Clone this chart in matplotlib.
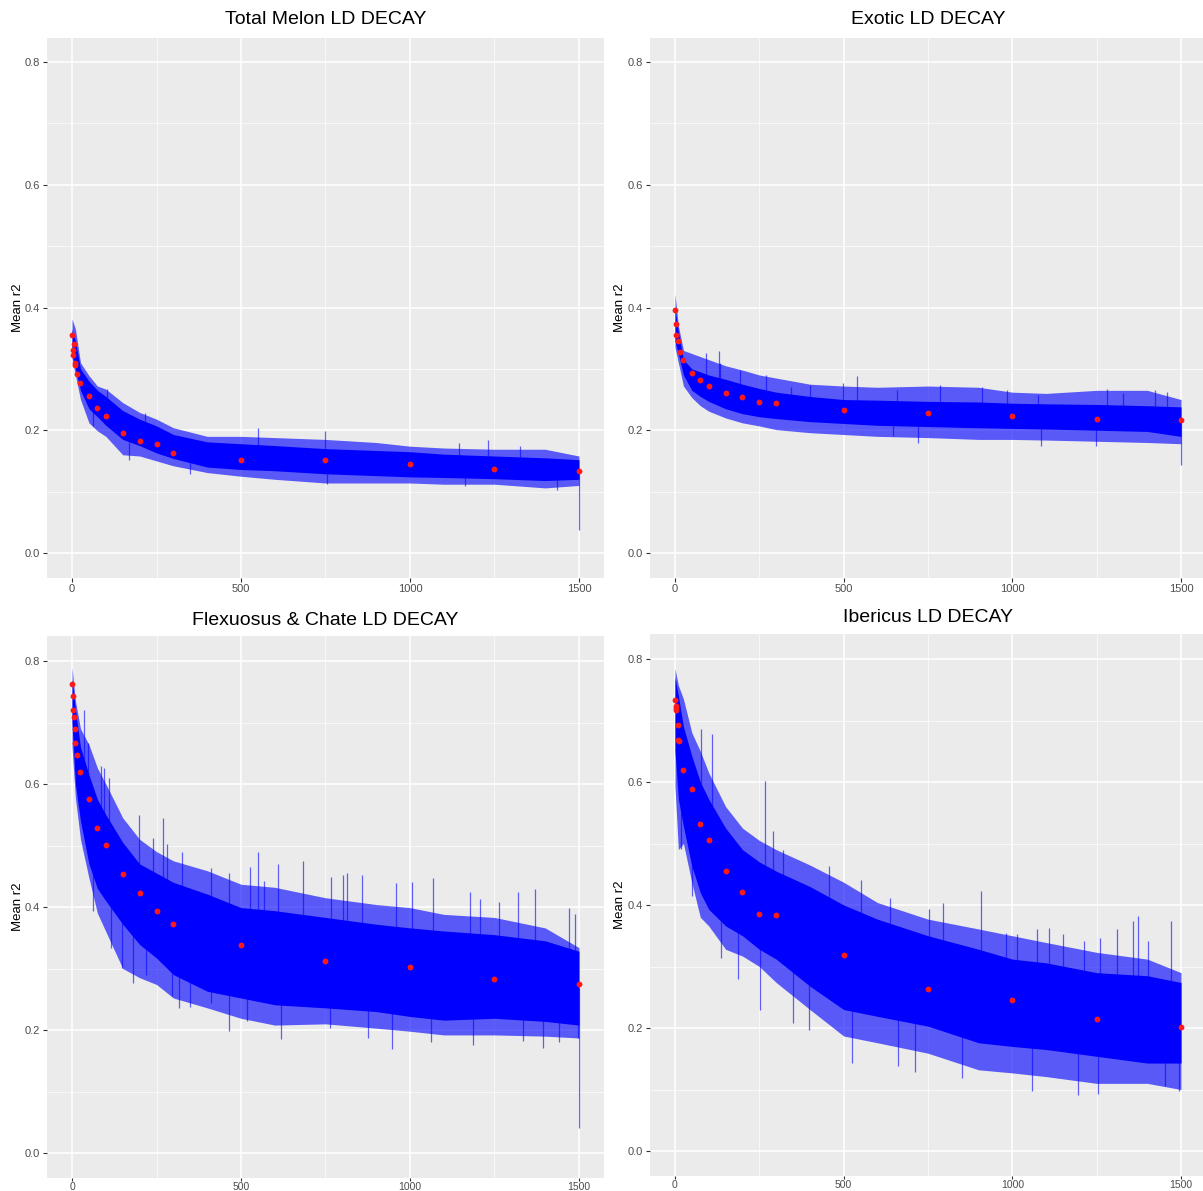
import numpy as np
import matplotlib
matplotlib.use("Agg")
import matplotlib.pyplot as plt

plt.rcParams['font.family'] = ['Liberation Sans', 'DejaVu Sans']

W, H = 1203, 1191

titles = ["Total Melon LD DECAY", "Exotic LD DECAY",
          "Flexuosus & Chate LD DECAY", "Ibericus LD DECAY"]

x_ticks = [0, 500, 1000, 1500]
y_ticks = [0.0, 0.2, 0.4, 0.6, 0.8]

# distances where the edges of the r2 band are sampled
band_dist = [0, 10, 25, 50, 75, 100, 150, 200, 250, 300, 400, 500, 600,
             750, 900, 1000, 1100, 1250, 1400, 1500]

# ---- Total Melon ----
tm_outer_hi = [0.381, 0.365, 0.310, 0.289, 0.272, 0.267, 0.245, 0.229, 0.218, 0.204, 0.190, 0.190,
               0.188, 0.185, 0.180, 0.174, 0.171, 0.169, 0.169, 0.158]
tm_core_hi = [0.365, 0.345, 0.300, 0.280, 0.265, 0.255, 0.232, 0.218, 0.207, 0.193, 0.181, 0.178,
              0.175, 0.170, 0.167, 0.165, 0.161, 0.158, 0.155, 0.152]
tm_core_lo = [0.325, 0.300, 0.265, 0.235, 0.222, 0.208, 0.185, 0.175, 0.163, 0.154, 0.140, 0.136,
              0.134, 0.129, 0.126, 0.124, 0.123, 0.121, 0.118, 0.120]
tm_outer_lo = [0.316, 0.290, 0.250, 0.212, 0.199, 0.190, 0.160, 0.158, 0.150, 0.142, 0.131, 0.125,
               0.120, 0.114, 0.114, 0.114, 0.112, 0.112, 0.106, 0.110]
tm_spike_d = [102, 217, 317, 550, 748, 1145, 1232, 1327,
              62, 170, 349, 754, 1162, 1434, 1500]
tm_spike_v = [0.267, 0.228, 0.190, 0.204, 0.199, 0.180, 0.184, 0.174,
              0.207, 0.152, 0.128, 0.112, 0.109, 0.103, 0.038]
tm_pt_d = [1, 2, 3, 5, 8, 10, 15, 25, 50, 75, 100, 150, 200, 250, 300, 500, 750, 1000, 1250, 1500]
tm_pt_r2 = [0.355, 0.331, 0.323, 0.340, 0.310, 0.306, 0.292, 0.277, 0.255, 0.236, 0.223, 0.195,
            0.183, 0.178, 0.163, 0.151, 0.151, 0.145, 0.137, 0.134]

# ---- Exotic ----
ex_outer_hi = [0.422, 0.370, 0.330, 0.325, 0.320, 0.315, 0.305, 0.298, 0.290, 0.285, 0.275, 0.272,
               0.270, 0.272, 0.270, 0.262, 0.260, 0.265, 0.265, 0.250]
ex_core_hi = [0.397, 0.360, 0.315, 0.300, 0.295, 0.290, 0.283, 0.275, 0.268, 0.262, 0.255, 0.250,
              0.249, 0.247, 0.246, 0.244, 0.243, 0.242, 0.240, 0.238]
ex_core_lo = [0.345, 0.325, 0.290, 0.265, 0.255, 0.247, 0.235, 0.227, 0.222, 0.219, 0.214, 0.211,
              0.208, 0.206, 0.204, 0.203, 0.202, 0.200, 0.198, 0.190]
ex_outer_lo = [0.335, 0.310, 0.272, 0.253, 0.240, 0.231, 0.220, 0.212, 0.207, 0.201, 0.196, 0.193,
               0.190, 0.188, 0.185, 0.185, 0.184, 0.182, 0.180, 0.178]
ex_spike_d = [92, 130, 134, 192, 270, 343, 401, 498, 539, 657, 786, 909, 984, 1076, 1281, 1328,
              1422, 1459, 646, 721, 1084, 1249, 1500]
ex_spike_v = [0.326, 0.329, 0.309, 0.298, 0.290, 0.271, 0.274, 0.277, 0.289, 0.266, 0.274, 0.271,
              0.266, 0.258, 0.267, 0.260, 0.266, 0.263, 0.190, 0.180, 0.174, 0.174, 0.144]
ex_pt_d = [1, 2, 3, 10, 15, 25, 50, 75, 100, 150, 200, 250, 300, 500, 750, 1000, 1250, 1500]
ex_pt_r2 = [0.396, 0.373, 0.355, 0.345, 0.327, 0.314, 0.294, 0.282, 0.272, 0.261, 0.254, 0.246,
            0.244, 0.233, 0.228, 0.224, 0.219, 0.217]

# ---- Flexuosus & Chate ----
fc_outer_hi = [0.789, 0.735, 0.690, 0.664, 0.626, 0.600, 0.545, 0.510, 0.490, 0.475, 0.459, 0.437,
               0.432, 0.415, 0.404, 0.399, 0.388, 0.383, 0.366, 0.334]
fc_core_hi = [0.770, 0.720, 0.660, 0.615, 0.575, 0.550, 0.505, 0.470, 0.455, 0.440, 0.421, 0.399,
              0.394, 0.383, 0.372, 0.366, 0.361, 0.355, 0.345, 0.328]
fc_core_lo = [0.700, 0.600, 0.540, 0.470, 0.430, 0.410, 0.372, 0.339, 0.317, 0.290, 0.263, 0.252,
              0.241, 0.236, 0.230, 0.222, 0.216, 0.219, 0.214, 0.208]
fc_outer_lo = [0.660, 0.577, 0.510, 0.447, 0.390, 0.360, 0.300, 0.285, 0.274, 0.252, 0.236, 0.219,
               0.208, 0.210, 0.203, 0.198, 0.192, 0.192, 0.190, 0.187]
fc_spike_d = [35, 48, 85, 96, 108, 198, 240, 268, 282, 324, 410, 463, 526, 549, 568, 608, 684,
              766, 802, 813, 857, 959, 1007, 1067, 1177, 1206, 1264, 1321, 1370, 1472, 1489,
              61, 114, 148, 179, 219, 295, 316, 348, 412, 465, 517, 617, 763, 875, 947, 1063,
              1187, 1335, 1395, 1440, 1498, 1500]
fc_spike_v = [0.721, 0.667, 0.629, 0.626, 0.610, 0.550, 0.513, 0.545, 0.502, 0.490, 0.464, 0.456,
              0.465, 0.490, 0.443, 0.470, 0.474, 0.449, 0.452, 0.455, 0.452, 0.439, 0.441, 0.447,
              0.425, 0.413, 0.408, 0.425, 0.430, 0.398, 0.388,
              0.394, 0.334, 0.301, 0.277, 0.290, 0.255, 0.236, 0.238, 0.244, 0.198, 0.214, 0.186,
              0.203, 0.187, 0.169, 0.181, 0.176, 0.182, 0.171, 0.180, 0.187, 0.041]
fc_pt_d = [1, 2, 3, 5, 8, 10, 15, 25, 50, 75, 100, 150, 200, 250, 300, 500, 750, 1000, 1250, 1500]
fc_pt_r2 = [0.762, 0.743, 0.720, 0.709, 0.689, 0.666, 0.647, 0.620, 0.575, 0.528, 0.501, 0.454,
            0.423, 0.393, 0.373, 0.338, 0.313, 0.302, 0.283, 0.275]

# ---- Ibericus ----
ib_outer_hi = [0.784, 0.757, 0.735, 0.680, 0.650, 0.615, 0.560, 0.525, 0.505, 0.490, 0.465, 0.437,
               0.404, 0.377, 0.361, 0.350, 0.339, 0.323, 0.312, 0.290]
ib_core_hi = [0.770, 0.740, 0.690, 0.642, 0.600, 0.572, 0.525, 0.490, 0.470, 0.455, 0.430, 0.400,
              0.377, 0.350, 0.328, 0.312, 0.306, 0.290, 0.285, 0.274]
ib_core_lo = [0.650, 0.572, 0.528, 0.463, 0.420, 0.393, 0.366, 0.350, 0.328, 0.312, 0.268, 0.230,
              0.219, 0.203, 0.176, 0.170, 0.165, 0.154, 0.143, 0.143]
ib_outer_lo = [0.593, 0.490, 0.500, 0.436, 0.380, 0.366, 0.328, 0.317, 0.300, 0.274, 0.230, 0.187,
               0.176, 0.159, 0.132, 0.127, 0.121, 0.110, 0.110, 0.100]
ib_spike_d = [76, 110, 267, 291, 319, 458, 550, 637, 752, 793, 908, 982, 1014, 1073, 1108, 1150,
              1213, 1260, 1310, 1359, 1372, 1401, 1470,
              17, 50, 136, 186, 252, 351, 396, 524, 661, 712, 851, 1058, 1195, 1254, 1453, 1495]
ib_spike_v = [0.686, 0.678, 0.602, 0.521, 0.489, 0.463, 0.440, 0.412, 0.393, 0.404, 0.423, 0.355,
              0.353, 0.361, 0.363, 0.353, 0.342, 0.347, 0.361, 0.374, 0.382, 0.342, 0.374,
              0.491, 0.415, 0.314, 0.279, 0.230, 0.208, 0.197, 0.143, 0.138, 0.129, 0.119, 0.097,
              0.091, 0.093, 0.105, 0.098]
ib_pt_d = [1, 2, 3, 4, 8, 10, 12, 25, 50, 75, 100, 150, 200, 250, 300, 500, 750, 1000, 1250, 1500]
ib_pt_r2 = [0.733, 0.723, 0.717, 0.721, 0.692, 0.669, 0.667, 0.619, 0.589, 0.532, 0.505, 0.455,
            0.421, 0.386, 0.383, 0.319, 0.264, 0.246, 0.215, 0.201]

panels = [
    (tm_outer_hi, tm_core_hi, tm_core_lo, tm_outer_lo, tm_spike_d, tm_spike_v, tm_pt_d, tm_pt_r2),
    (ex_outer_hi, ex_core_hi, ex_core_lo, ex_outer_lo, ex_spike_d, ex_spike_v, ex_pt_d, ex_pt_r2),
    (fc_outer_hi, fc_core_hi, fc_core_lo, fc_outer_lo, fc_spike_d, fc_spike_v, fc_pt_d, fc_pt_r2),
    (ib_outer_hi, ib_core_hi, ib_core_lo, ib_outer_lo, ib_spike_d, ib_spike_v, ib_pt_d, ib_pt_r2),
]

# panel boxes in pixels: left, right, top, bottom
boxes = [(46.7, 604.3, 37.5, 577.5),
         (649.7, 1206.3, 37.5, 577.5),
         (46.7, 604.3, 636.4, 1177.6),
         (649.7, 1206.3, 634.4, 1175.6)]
title_y = [20, 20, 620, 618]

fig = plt.figure(figsize=(W / 100, H / 100), dpi=100)
fig.patch.set_facecolor("white")

for i, (box, title, data) in enumerate(zip(boxes, titles, panels)):
    l, r, t, b = box
    ax = fig.add_axes([l / W, 1 - b / H, (r - l) / W, (b - t) / H])
    ax.set_facecolor("#EBEBEB")
    ax.set_xlim(-75, 1575)
    ax.set_ylim(-0.04, 0.84)
    for s in ax.spines.values():
        s.set_visible(False)
    ax.set_xticks(x_ticks)
    ax.set_yticks(y_ticks)
    ax.set_xticklabels([str(v) for v in x_ticks])
    ax.set_yticklabels([f"{v:.1f}" for v in y_ticks])
    ax.set_xticks([250, 750, 1250], minor=True)
    ax.set_yticks([0.1, 0.3, 0.5, 0.7], minor=True)
    ax.tick_params(which="major", length=3, width=0.8, color="#333333",
                   labelcolor="#4D4D4D", labelsize=8, pad=2)
    if i >= 2:
        ax.tick_params(axis="x", which="major", length=2.5, pad=1, labelsize=7.5)
    ax.tick_params(which="minor", length=0)
    ax.grid(which="major", color="white", linewidth=1.1)
    ax.grid(which="minor", color="white", linewidth=0.5)
    ax.set_axisbelow(True)

    ohi, chi, clo, olo, sd, sv, pd_, pr = data
    mid = (np.asarray(chi) + np.asarray(clo)) / 2
    # lighter fringe of the noisy r2 trace, then its dense core
    ax.fill_between(band_dist, olo, ohi, color="#0000FF", alpha=0.62, linewidth=0)
    ax.fill_between(band_dist, clo, chi, color="#0000FF", linewidth=0)
    base = np.interp(sd, band_dist, mid)
    ax.vlines(sd, base, sv, color="#0000FF", alpha=0.6, linewidth=0.9)
    ax.plot(pd_, pr, "o", color="#FF1A1A", markersize=4.2, markeredgewidth=0)

    fig.text((l + r) / 2 / W, 1 - title_y[i] / H, title, ha="center", va="center",
             fontsize=14, color="black")
    fig.text((18 if i % 2 == 0 else 620) / W, 1 - (t + b) / 2 / H, "Mean r2",
             rotation=90, ha="center", va="center", fontsize=9.5, color="black")

fig.savefig("out.png", dpi=100, facecolor="white")
